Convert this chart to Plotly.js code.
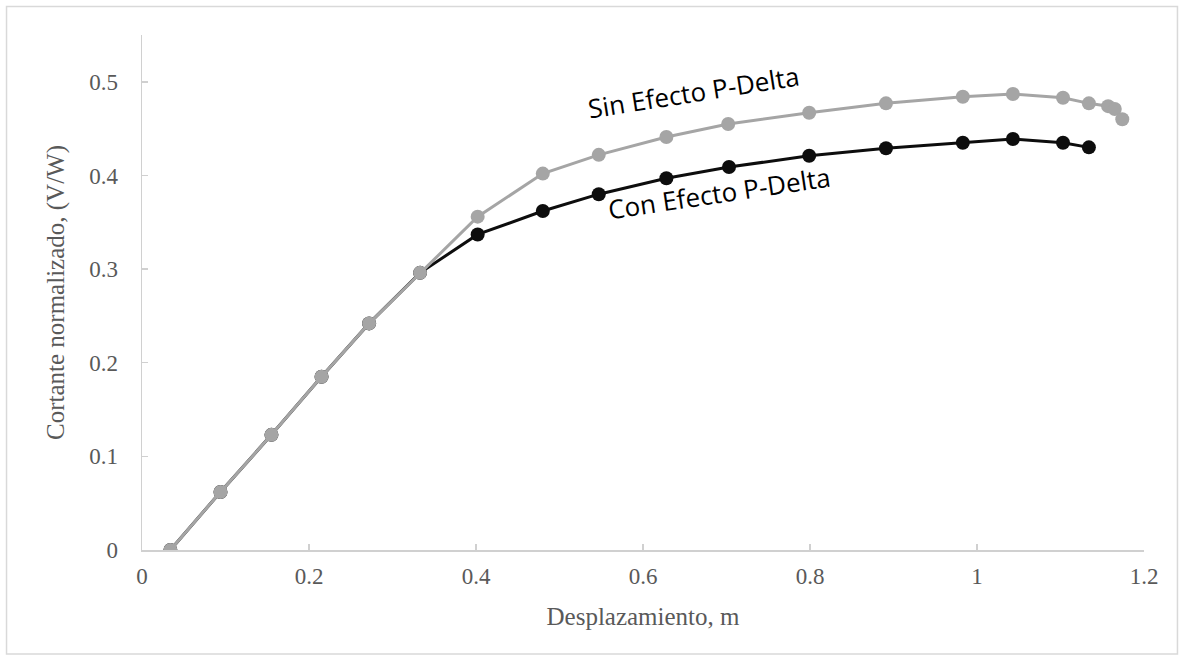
<!DOCTYPE html>
<html>
<head>
<meta charset="utf-8">
<script src="https://cdn.plot.ly/plotly-3.0.1.min.js"></script>
<style>html,body{margin:0;padding:0;background:#fff;}#chart{width:1183px;height:659px;}</style>
</head>
<body>
<div id="chart"></div>
<script>
// Sin Efecto P-Delta (gray)
const sinX = [0.034, 0.094, 0.155, 0.215, 0.272, 0.333, 0.402, 0.480, 0.547, 0.628, 0.702, 0.799, 0.891, 0.983, 1.043, 1.103, 1.134, 1.157, 1.165, 1.174];
const sinY = [0.000, 0.062, 0.123, 0.185, 0.242, 0.296, 0.356, 0.402, 0.422, 0.441, 0.455, 0.467, 0.477, 0.484, 0.487, 0.483, 0.477, 0.474, 0.471, 0.460];
// Con Efecto P-Delta (black)
const conX = [0.034, 0.094, 0.155, 0.215, 0.272, 0.333, 0.402, 0.480, 0.547, 0.628, 0.703, 0.799, 0.891, 0.983, 1.043, 1.103, 1.134];
const conY = [0.000, 0.062, 0.123, 0.185, 0.242, 0.296, 0.337, 0.362, 0.380, 0.397, 0.409, 0.421, 0.429, 0.435, 0.439, 0.435, 0.430];

const xTicks = [0, 0.2, 0.4, 0.6, 0.8, 1, 1.2];
const xTickText = ['0', '0.2', '0.4', '0.6', '0.8', '1', '1.2'];
const yTicks = [0, 0.1, 0.2, 0.3, 0.4, 0.5];
const yTickText = ['0', '0.1', '0.2', '0.3', '0.4', '0.5'];

const labelSin = 'Sin Efecto P-Delta';
const labelCon = 'Con Efecto P-Delta';

const traces = [
  {x: conX, y: conY, mode: 'lines+markers', name: labelCon,
   line: {color: '#0d0d0d', width: 3}, marker: {color: '#0d0d0d', size: 14}},
  {x: sinX, y: sinY, mode: 'lines+markers', name: labelSin,
   line: {color: '#a5a5a5', width: 3}, marker: {color: '#a5a5a5', size: 14}}
];

const serif = 'Liberation Serif, Times New Roman, serif';
const tickFont = {family: serif, size: 23, color: '#595959'};
const titleFont = {family: serif, size: 25, color: '#595959'};
const noteFont = {family: 'Open Sans, Noto Sans, sans-serif', size: 26, color: '#000000'};

const layout = {
  width: 1183, height: 659,
  margin: {l: 142, r: 39, t: 35, b: 109},
  paper_bgcolor: '#ffffff', plot_bgcolor: '#ffffff',
  showlegend: false,
  xaxis: {
    range: [0, 1.2], tickvals: xTicks, ticktext: xTickText,
    showgrid: false, zeroline: false, showline: true, linecolor: '#d0d0d0', linewidth: 1.5,
    ticks: 'inside', ticklen: 6, tickcolor: '#d0d0d0', tickwidth: 1.5,
    tickfont: tickFont, ticklabelstandoff: 5,
    title: {text: 'Desplazamiento, m', font: titleFont, standoff: 19}
  },
  yaxis: {
    range: [0, 0.55], tickvals: yTicks, ticktext: yTickText,
    showgrid: false, zeroline: false, showline: true, linecolor: '#d0d0d0', linewidth: 1.5,
    ticks: 'inside', ticklen: 6, tickcolor: '#d0d0d0', tickwidth: 1.5,
    tickfont: tickFont, ticklabelstandoff: 18,
    title: {text: 'Cortante normalizado, (V/W)', font: titleFont, standoff: 17}
  },
  annotations: [
    {x: 0.661, y: 0.489, xref: 'x', yref: 'y', text: labelSin, showarrow: false, textangle: -9, font: noteFont},
    {x: 0.691, y: 0.381, xref: 'x', yref: 'y', text: labelCon, showarrow: false, textangle: -8.5, font: noteFont}
  ],
  shapes: [
    {type: 'rect', xref: 'paper', yref: 'paper', x0: -0.1352, x1: 1.0334, y0: -0.2019, y1: 1.0553,
     line: {color: '#d9d9d9', width: 1.5}, layer: 'below'}
  ]
};

Plotly.newPlot('chart', traces, layout, {displayModeBar: false, staticPlot: true});
</script>
</body>
</html>
